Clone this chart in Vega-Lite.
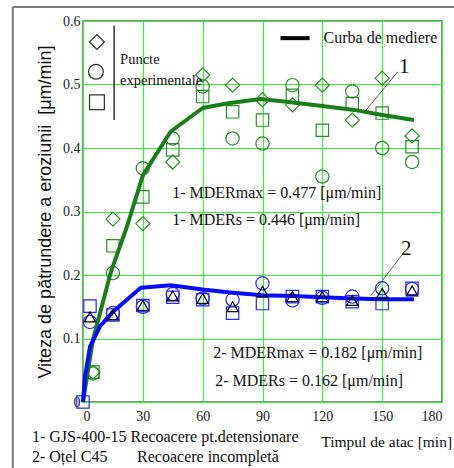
{
  "$schema": "https://vega.github.io/schema/vega-lite/v6.json",
  "width": 359,
  "height": 381,
  "autosize": {"type": "none"},
  "padding": {"left": 83, "top": 21, "right": 12, "bottom": 66},
  "background": "white",
  "config": {
    "view": {"stroke": "#666", "strokeWidth": 1.5},
    "font": "Liberation Serif",
    "axis": {
      "grid": true,
      "gridColor": "#3af03a",
      "gridWidth": 1.2,
      "gridOpacity": 1,
      "domain": false,
      "ticks": false,
      "labelFont": "Liberation Serif",
      "labelFontSize": 14,
      "labelColor": "#222"
    }
  },
  "datasets": {
    "pts": [
      {"t": 5, "v": 0.047, "s": "1", "m": "d"},
      {"t": 5, "v": 0.047, "s": "1", "m": "s"},
      {"t": 5, "v": 0.045, "s": "1", "m": "c"},
      {"t": 15, "v": 0.288, "s": "1", "m": "d"},
      {"t": 15, "v": 0.246, "s": "1", "m": "s"},
      {"t": 15, "v": 0.203, "s": "1", "m": "c"},
      {"t": 30, "v": 0.281, "s": "1", "m": "d"},
      {"t": 30, "v": 0.323, "s": "1", "m": "s"},
      {"t": 30, "v": 0.368, "s": "1", "m": "c"},
      {"t": 45, "v": 0.378, "s": "1", "m": "d"},
      {"t": 45, "v": 0.397, "s": "1", "m": "s"},
      {"t": 45, "v": 0.415, "s": "1", "m": "c"},
      {"t": 60, "v": 0.515, "s": "1", "m": "d"},
      {"t": 60, "v": 0.497, "s": "1", "m": "c"},
      {"t": 60, "v": 0.481, "s": "1", "m": "s"},
      {"t": 75, "v": 0.499, "s": "1", "m": "d"},
      {"t": 75, "v": 0.457, "s": "1", "m": "s"},
      {"t": 75, "v": 0.415, "s": "1", "m": "c"},
      {"t": 90, "v": 0.476, "s": "1", "m": "d"},
      {"t": 90, "v": 0.444, "s": "1", "m": "s"},
      {"t": 90, "v": 0.407, "s": "1", "m": "c"},
      {"t": 105, "v": 0.499, "s": "1", "m": "c"},
      {"t": 105, "v": 0.483, "s": "1", "m": "s"},
      {"t": 105, "v": 0.468, "s": "1", "m": "d"},
      {"t": 120, "v": 0.499, "s": "1", "m": "d"},
      {"t": 120, "v": 0.428, "s": "1", "m": "s"},
      {"t": 120, "v": 0.355, "s": "1", "m": "c"},
      {"t": 135, "v": 0.489, "s": "1", "m": "c"},
      {"t": 135, "v": 0.470, "s": "1", "m": "s"},
      {"t": 135, "v": 0.444, "s": "1", "m": "d"},
      {"t": 150, "v": 0.510, "s": "1", "m": "d"},
      {"t": 150, "v": 0.455, "s": "1", "m": "s"},
      {"t": 150, "v": 0.400, "s": "1", "m": "c"},
      {"t": 165, "v": 0.419, "s": "1", "m": "d"},
      {"t": 165, "v": 0.402, "s": "1", "m": "s"},
      {"t": 165, "v": 0.378, "s": "1", "m": "c"},
      {"t": 0, "v": 0.0, "s": "2", "m": "s"},
      {"t": 3.5, "v": 0.151, "s": "2", "m": "s"},
      {"t": 3.5, "v": 0.134, "s": "2", "m": "t"},
      {"t": 3.5, "v": 0.126, "s": "2", "m": "c"},
      {"t": 15, "v": 0.137, "s": "2", "m": "s"},
      {"t": 15, "v": 0.137, "s": "2", "m": "t"},
      {"t": 15, "v": 0.140, "s": "2", "m": "c"},
      {"t": 30, "v": 0.152, "s": "2", "m": "s"},
      {"t": 30, "v": 0.152, "s": "2", "m": "t"},
      {"t": 30, "v": 0.150, "s": "2", "m": "c"},
      {"t": 45, "v": 0.165, "s": "2", "m": "s"},
      {"t": 45, "v": 0.167, "s": "2", "m": "t"},
      {"t": 45, "v": 0.170, "s": "2", "m": "c"},
      {"t": 60, "v": 0.161, "s": "2", "m": "s"},
      {"t": 60, "v": 0.163, "s": "2", "m": "t"},
      {"t": 60, "v": 0.163, "s": "2", "m": "c"},
      {"t": 75, "v": 0.161, "s": "2", "m": "c"},
      {"t": 75, "v": 0.150, "s": "2", "m": "t"},
      {"t": 75, "v": 0.140, "s": "2", "m": "s"},
      {"t": 90, "v": 0.187, "s": "2", "m": "c"},
      {"t": 90, "v": 0.174, "s": "2", "m": "t"},
      {"t": 90, "v": 0.155, "s": "2", "m": "s"},
      {"t": 105, "v": 0.166, "s": "2", "m": "s"},
      {"t": 105, "v": 0.166, "s": "2", "m": "t"},
      {"t": 105, "v": 0.160, "s": "2", "m": "c"},
      {"t": 120, "v": 0.166, "s": "2", "m": "s"},
      {"t": 120, "v": 0.166, "s": "2", "m": "t"},
      {"t": 120, "v": 0.164, "s": "2", "m": "c"},
      {"t": 135, "v": 0.166, "s": "2", "m": "c"},
      {"t": 135, "v": 0.158, "s": "2", "m": "s"},
      {"t": 135, "v": 0.160, "s": "2", "m": "t"},
      {"t": 150, "v": 0.179, "s": "2", "m": "c"},
      {"t": 150, "v": 0.171, "s": "2", "m": "t"},
      {"t": 150, "v": 0.155, "s": "2", "m": "s"},
      {"t": 165, "v": 0.179, "s": "2", "m": "s"},
      {"t": 165, "v": 0.178, "s": "2", "m": "c"},
      {"t": 165, "v": 0.175, "s": "2", "m": "t"}
    ],
    "curves": [
      {"t": 0, "v": 0, "s": "1"},
      {"t": 5, "v": 0.098, "s": "1"},
      {"t": 14, "v": 0.205, "s": "1"},
      {"t": 22, "v": 0.276, "s": "1"},
      {"t": 30, "v": 0.357, "s": "1"},
      {"t": 44, "v": 0.426, "s": "1"},
      {"t": 60, "v": 0.463, "s": "1"},
      {"t": 72, "v": 0.470, "s": "1"},
      {"t": 89, "v": 0.477, "s": "1"},
      {"t": 102, "v": 0.473, "s": "1"},
      {"t": 120, "v": 0.466, "s": "1"},
      {"t": 136, "v": 0.460, "s": "1"},
      {"t": 150, "v": 0.452, "s": "1"},
      {"t": 166, "v": 0.444, "s": "1"},
      {"t": 0, "v": 0, "s": "2"},
      {"t": 1, "v": 0.04, "s": "2"},
      {"t": 3.5, "v": 0.087, "s": "2"},
      {"t": 8.5, "v": 0.119, "s": "2"},
      {"t": 15, "v": 0.142, "s": "2"},
      {"t": 29, "v": 0.180, "s": "2"},
      {"t": 44, "v": 0.184, "s": "2"},
      {"t": 60, "v": 0.177, "s": "2"},
      {"t": 75, "v": 0.172, "s": "2"},
      {"t": 90, "v": 0.168, "s": "2"},
      {"t": 105, "v": 0.167, "s": "2"},
      {"t": 120, "v": 0.165, "s": "2"},
      {"t": 135, "v": 0.163, "s": "2"},
      {"t": 150, "v": 0.162, "s": "2"},
      {"t": 166, "v": 0.162, "s": "2"}
    ],
    "legsym": [
      {"t": 7, "v": 0.567, "m": "d"},
      {"t": 6.5, "v": 0.520, "m": "c"},
      {"t": 7, "v": 0.472, "m": "s"}
    ],
    "rules": [
      {"x": 15.6, "y": 0.593, "x2": 15.6, "y2": 0.444, "k": "legv"},
      {"x": 99, "y": 0.573, "x2": 113.6, "y2": 0.573, "k": "curve"},
      {"x": 157.8, "y": 0.520, "x2": 141.2, "y2": 0.457, "k": "lead"},
      {"x": 160.3, "y": 0.233, "x2": 144.2, "y2": 0.167, "k": "lead"},
      {"x": -35.2, "y": 0.622, "x2": -35.2, "y2": -0.11, "k": "frame"},
      {"x": -35.2, "y": 0.622, "x2": 187, "y2": 0.622, "k": "frame"}
    ],
    "texts": [
      {"x": 18.6, "y": 0.539, "label": "Puncte", "k": "leg"},
      {"x": 18.6, "y": 0.505, "label": "experimentale", "k": "leg"},
      {"x": 120.6, "y": 0.573, "label": "Curba de mediere", "k": "ann"},
      {"x": 44.7, "y": 0.329, "label": "1- MDERmax = 0.477 [μm/min]", "k": "ann"},
      {"x": 44.7, "y": 0.287, "label": "1- MDERs = 0.446 [μm/min]", "k": "ann"},
      {"x": 65.3, "y": 0.077, "label": "2- MDERmax = 0.182 [μm/min]", "k": "ann"},
      {"x": 66.3, "y": 0.033, "label": "2- MDERs = 0.162 [μm/min]", "k": "ann"},
      {"x": 158.5, "y": 0.527, "label": "1", "k": "big"},
      {"x": 159.5, "y": 0.241, "label": "2", "k": "big"},
      {"x": -25.6, "y": -0.055, "label": "1- GJS-400-15 Recoacere pt.detensionare", "k": "ann"},
      {"x": -25.6, "y": -0.087, "label": "2- Oțel C45", "k": "ann"},
      {"x": 27.1, "y": -0.087, "label": "Recoacere incompletă", "k": "ann"},
      {"x": 119.5, "y": -0.063, "label": "Timpul de atac [min]", "k": "ann2"}
    ]
  },
  "layer": [
    {
      "data": {"name": "pts"},
      "transform": [{"filter": "datum.s == '1'"}],
      "mark": {"type": "point", "filled": false, "strokeWidth": 1.2, "color": "#2e8b2e", "opacity": 1},
      "encoding": {
        "x": {
          "field": "t", "type": "quantitative",
          "scale": {"domain": [0, 180], "nice": false},
          "axis": {"values": [0, 30, 60, 90, 120, 150, 180], "title": null, "labelPadding": 7, "labelFont": "Liberation Serif", "labelFontSize": 14}
        },
        "y": {
          "field": "v", "type": "quantitative",
          "scale": {"domain": [0, 0.6], "nice": false},
          "axis": {
            "values": [0, 0.1, 0.2, 0.3, 0.4, 0.5, 0.6],
            "labelExpr": "datum.value == 0 ? '0' : format(datum.value, '.1f')",
            "labelPadding": 3,
            "labelFont": "Liberation Serif",
            "labelFontSize": 14,
            "title": "Viteza de pătrundere a eroziunii \u00a0[μm/min]",
            "titleFont": "Liberation Sans",
            "titleFontSize": 18,
            "titleFontWeight": "normal",
            "titleColor": "#111",
            "titlePadding": 8
          }
        },
        "shape": {"field": "m", "type": "nominal", "scale": {"domain": ["d", "c", "s", "t"], "range": ["diamond", "circle", "square", "triangle-up"]}, "legend": null},
        "size": {"field": "m", "type": "nominal", "scale": {"domain": ["d", "c", "s", "t"], "range": [200, 130, 150, 90]}, "legend": null}
      }
    },
    {
      "data": {"name": "pts"},
      "transform": [{"filter": "datum.s == '2' && datum.m != 't'"}],
      "mark": {"type": "point", "filled": false, "strokeWidth": 1.2, "color": "#2a2aff", "opacity": 1},
      "encoding": {
        "x": {"field": "t", "type": "quantitative"},
        "y": {"field": "v", "type": "quantitative"},
        "shape": {"field": "m", "type": "nominal", "legend": null},
        "size": {"field": "m", "type": "nominal", "legend": null}
      }
    },
    {
      "data": {"name": "curves"},
      "mark": {"type": "line", "strokeWidth": 4, "strokeJoin": "round"},
      "encoding": {
        "x": {"field": "t", "type": "quantitative"},
        "y": {"field": "v", "type": "quantitative"},
        "color": {"field": "s", "type": "nominal", "scale": {"domain": ["1", "2"], "range": ["#1a7d1a", "#0a0aff"]}, "legend": null}
      }
    },
    {
      "data": {"name": "pts"},
      "transform": [{"filter": "datum.s == '2' && datum.m == 't'"}],
      "mark": {"type": "point", "filled": false, "strokeWidth": 1.2, "color": "#000", "opacity": 1},
      "encoding": {
        "x": {"field": "t", "type": "quantitative"},
        "y": {"field": "v", "type": "quantitative"},
        "shape": {"field": "m", "type": "nominal", "legend": null},
        "size": {"field": "m", "type": "nominal", "legend": null}
      }
    },
    {
      "data": {"name": "legsym"},
      "mark": {"type": "point", "filled": false, "strokeWidth": 1.2, "color": "#333", "opacity": 1},
      "encoding": {
        "x": {"field": "t", "type": "quantitative"},
        "y": {"field": "v", "type": "quantitative"},
        "shape": {"field": "m", "type": "nominal", "legend": null},
        "size": {"value": 220}
      }
    },
    {
      "data": {"name": "rules"},
      "transform": [{"filter": "datum.k == 'legv'"}],
      "mark": {"type": "rule", "color": "#111", "strokeWidth": 1.3},
      "encoding": {
        "x": {"field": "x", "type": "quantitative"}, "y": {"field": "y", "type": "quantitative"},
        "x2": {"field": "x2"}, "y2": {"field": "y2"}
      }
    },
    {
      "data": {"name": "rules"},
      "transform": [{"filter": "datum.k == 'curve'"}],
      "mark": {"type": "rule", "color": "#000", "strokeWidth": 4},
      "encoding": {
        "x": {"field": "x", "type": "quantitative"}, "y": {"field": "y", "type": "quantitative"},
        "x2": {"field": "x2"}, "y2": {"field": "y2"}
      }
    },
    {
      "data": {"name": "rules"},
      "transform": [{"filter": "datum.k == 'lead'"}],
      "mark": {"type": "rule", "color": "#333", "strokeWidth": 0.8},
      "encoding": {
        "x": {"field": "x", "type": "quantitative"}, "y": {"field": "y", "type": "quantitative"},
        "x2": {"field": "x2"}, "y2": {"field": "y2"}
      }
    },
    {
      "data": {"name": "rules"},
      "transform": [{"filter": "datum.k == 'frame'"}],
      "mark": {"type": "rule", "color": "#777", "strokeWidth": 2},
      "encoding": {
        "x": {"field": "x", "type": "quantitative"}, "y": {"field": "y", "type": "quantitative"},
        "x2": {"field": "x2"}, "y2": {"field": "y2"}
      }
    },
    {
      "data": {"name": "texts"},
      "transform": [{"filter": "datum.k == 'leg'"}],
      "mark": {"type": "text", "align": "left", "baseline": "middle", "font": "Liberation Serif", "fontSize": 14.5, "color": "#111"},
      "encoding": {
        "x": {"field": "x", "type": "quantitative"}, "y": {"field": "y", "type": "quantitative"},
        "text": {"field": "label"}
      }
    },
    {
      "data": {"name": "texts"},
      "transform": [{"filter": "datum.k == 'ann'"}],
      "mark": {"type": "text", "align": "left", "baseline": "middle", "font": "Liberation Serif", "fontSize": 16, "color": "#111"},
      "encoding": {
        "x": {"field": "x", "type": "quantitative"}, "y": {"field": "y", "type": "quantitative"},
        "text": {"field": "label"}
      }
    },
    {
      "data": {"name": "texts"},
      "transform": [{"filter": "datum.k == 'ann2'"}],
      "mark": {"type": "text", "align": "left", "baseline": "middle", "font": "Liberation Serif", "fontSize": 15.5, "color": "#111"},
      "encoding": {
        "x": {"field": "x", "type": "quantitative"}, "y": {"field": "y", "type": "quantitative"},
        "text": {"field": "label"}
      }
    },
    {
      "data": {"name": "texts"},
      "transform": [{"filter": "datum.k == 'big'"}],
      "mark": {"type": "text", "align": "left", "baseline": "middle", "font": "Liberation Serif", "fontSize": 21, "color": "#111"},
      "encoding": {
        "x": {"field": "x", "type": "quantitative"}, "y": {"field": "y", "type": "quantitative"},
        "text": {"field": "label"}
      }
    }
  ]
}
